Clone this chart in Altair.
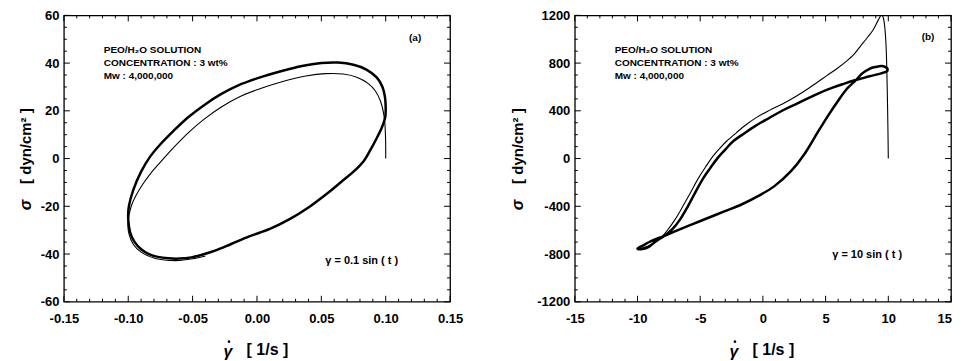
import altair as alt
import pandas as pd

# ---------------- data ----------------
# Panel (a): gamma = 0.1 sin(t)   (steady loop, closed)
A_LOOP_X = [0.1000, 0.0995, 0.0975, 0.0930, 0.0850, 0.0750, 0.0630, 0.0500, 0.0350, 0.0200,
            0.0000, -0.0150, -0.0280, -0.0400, -0.0530, -0.0650, -0.0750, -0.0830, -0.0900, -0.0960,
            -0.0995, -0.1000, -0.0985, -0.0950, -0.0900, -0.0840, -0.0770, -0.0690, -0.0600, -0.0510,
            -0.0420, -0.0320, -0.0200, -0.0060, 0.0100, 0.0250, 0.0400, 0.0560, 0.0660, 0.0750,
            0.0830, 0.0880, 0.0930, 0.0970, 0.0995]
A_LOOP_Y = [20.0, 25.5, 30.0, 34.0, 37.3, 39.3, 40.2, 40.0, 38.8, 36.8,
            33.6, 30.6, 27.0, 22.8, 17.5, 11.5, 6.0, 0.8, -5.5, -13.0,
            -20.0, -25.5, -31.0, -35.0, -38.0, -40.0, -41.2, -41.8, -41.9, -41.4,
            -40.2, -38.5, -35.8, -32.6, -29.5, -25.5, -20.5, -14.0, -9.5, -5.5,
            -1.0, 3.5, 8.5, 13.0, 17.0]
# Panel (a): start-up transient
A_START_X = [0.1000, 0.1000, 0.0998, 0.0993, 0.0982, 0.0960, 0.0920, 0.0860, 0.0780, 0.0670,
             0.0530, 0.0380, 0.0200, 0.0000, -0.0150, -0.0280, -0.0410, -0.0530, -0.0650, -0.0750,
             -0.0830, -0.0890, -0.0940, -0.0980, -0.1002, -0.0995, -0.0960, -0.0900, -0.0800, -0.0700,
             -0.0600, -0.0500, -0.0400]
A_START_Y = [0.0, 5.0, 10.0, 15.0, 19.5, 24.0, 28.3, 31.6, 34.0, 35.4,
             35.6, 34.6, 32.3, 28.8, 25.5, 21.5, 16.5, 11.0, 4.5, -1.5,
             -6.5, -11.0, -15.5, -20.5, -27.0, -31.5, -36.0, -39.2, -41.7, -42.6,
             -42.7, -42.0, -40.8]

# Panel (b): gamma = 10 sin(t)   (steady loop, closed)
B_LOOP_X = [-10.0, -9.5, -9.0, -8.4, -7.9, -6.97, -5.66, -4.34, -3.03, -1.71,
            -0.39, 0.92, 2.24, 3.29, 4.34, 5.2, 6.0, 6.7, 7.4, 7.9,
            8.5, 9.0, 9.5, 9.85, 9.95, 9.85, 9.3, 8.5, 7.9, 7.4,
            6.5, 5.5, 4.4, 3.5, 2.6, 1.6, 0.5, -0.66, -1.5, -2.37,
            -3.0, -3.6, -4.2, -4.74, -5.4, -6.05, -6.6, -7.2, -7.9, -8.5,
            -9.1, -9.6]
B_LOOP_Y = [-755, -725, -697, -670, -650, -608, -552, -496, -441, -385,
            -315, -231, -106, 34, 215, 360, 485, 585, 655, 712,
            752, 768, 775, 762, 745, 728, 710, 690, 672, 658,
            628, 592, 545, 500, 455, 405, 340, 270, 210, 145,
            75, 6, -80, -162, -285, -413, -510, -590, -650, -690,
            -740, -758]
# Panel (b): start-up transient
B_START_X = [10.0, 9.97, 9.93, 9.88, 9.82, 9.72, 9.6, 9.47, 9.2, 8.8,
             8.3, 7.8, 7.24, 6.6, 5.92, 5.1, 4.34, 3.29, 1.97, 0.39,
             -0.5, -1.32, -2.1, -2.9, -3.5, -4.08, -4.6, -5.13, -5.8, -6.45,
             -7.0, -7.5, -8.3, -9.2, -9.9]
B_START_Y = [0, 250, 500, 750, 950, 1100, 1180, 1205, 1160, 1080,
             1010, 945, 871, 810, 755, 695, 640, 564, 480, 397,
             345, 285, 218, 145, 78, 6, -75, -162, -290, -413,
             -510, -585, -680, -735, -755]

# axis ticks / labels
A_X_MAJOR = [-0.15, -0.10, -0.05, 0.00, 0.05, 0.10, 0.15]
A_X_MINOR = [-0.14, -0.13, -0.12, -0.11, -0.09, -0.08, -0.07, -0.06, -0.04, -0.03, -0.02, -0.01,
             0.01, 0.02, 0.03, 0.04, 0.06, 0.07, 0.08, 0.09, 0.11, 0.12, 0.13, 0.14]
A_Y_MAJOR = [-60, -40, -20, 0, 20, 40, 60]
A_Y_MINOR = [-55, -50, -45, -35, -30, -25, -15, -10, -5, 5, 10, 15, 25, 30, 35, 45, 50, 55]
B_X_MAJOR = [-15, -10, -5, 0, 5, 10, 15]
B_X_MINOR = [-14, -13, -12, -11, -9, -8, -7, -6, -4, -3, -2, -1,
             1, 2, 3, 4, 6, 7, 8, 9, 11, 12, 13, 14]
B_Y_MAJOR = [-1200, -800, -400, 0, 400, 800, 1200]
B_Y_MINOR = [-1100, -1000, -900, -700, -600, -500, -300, -200, -100,
             100, 200, 300, 500, 600, 700, 900, 1000, 1100]

INFO_TEXT = "PEO/H\u2082O  SOLUTION\nCONCENTRATION : 3 wt%\nMw : 4,000,000"
X_UNIT = "[ 1/s ]"
Y_UNIT = "[ dyn/cm\u00b2 ]"
GAMMA = "\u03b3"
SIGMA = "\u03c3"

FONT = "Liberation Sans"
MINUS_FIX = "replace(datum.label, '\u2212', '-')"


def txt(s, x, y, size, align="center", baseline="middle", angle=0, style="normal", **kw):
    return alt.Chart(pd.DataFrame({"t": [s]})).mark_text(
        align=align, baseline=baseline, font=FONT, fontSize=size, fontWeight="bold",
        fontStyle=style, color="black", angle=angle, **kw
    ).encode(x=alt.value(x), y=alt.value(y), text="t:N")


def panel(loop_x, loop_y, start_x, start_y, xdom, ydom, W, H,
          xmaj, xlab, xmin, ymaj, ymin, xfmt, tag, tag_pos, eq, eq_pos, ytitle_x,
          last_label=None):
    xs = alt.Scale(domain=xdom, nice=False, zero=False)
    ys = alt.Scale(domain=ydom, nice=False, zero=False)
    xaxis = alt.Axis(values=xlab, format=xfmt, title=None, ticks=False, tickSize=0,
                     domain=False, grid=False, labelPadding=11,
                     labelFlush=False, labelOverlap=False, labelExpr=MINUS_FIX)
    yaxis = alt.Axis(values=ymaj, format="d", title=None, ticks=False, tickSize=0,
                     domain=False, grid=False, labelPadding=5,
                     labelFlush=False, labelOverlap=False, labelExpr=MINUS_FIX)

    def X(f):
        return alt.X(f, scale=xs, axis=xaxis)

    def Y(f):
        return alt.Y(f, scale=ys, axis=yaxis)

    loop_df = pd.DataFrame({"x": loop_x, "y": loop_y, "i": list(range(len(loop_x)))})
    start_df = pd.DataFrame({"x": start_x, "y": start_y, "i": list(range(len(start_x)))})

    loop = alt.Chart(loop_df).mark_line(
        color="black", strokeWidth=2.5, interpolate="cardinal-closed", clip=True
    ).encode(x=X("x:Q"), y=Y("y:Q"), order="i:Q")
    start = alt.Chart(start_df).mark_line(
        color="black", strokeWidth=1.1, interpolate="catmull-rom", clip=True
    ).encode(x=X("x:Q"), y=Y("y:Q"), order="i:Q")

    layers = [loop, start]

    def xticks(vals, L):
        df = pd.DataFrame({"x": vals})
        bot = alt.Chart(df).mark_rule(color="black", strokeWidth=1).encode(
            x=X("x:Q"), y=alt.value(H), y2=alt.value(H - L))
        top = alt.Chart(df).mark_rule(color="black", strokeWidth=1).encode(
            x=X("x:Q"), y=alt.value(0), y2=alt.value(L))
        return [bot, top]

    def yticks(vals, L):
        df = pd.DataFrame({"y": vals})
        left = alt.Chart(df).mark_rule(color="black", strokeWidth=1).encode(
            y=Y("y:Q"), x=alt.value(0), x2=alt.value(L))
        right = alt.Chart(df).mark_rule(color="black", strokeWidth=1).encode(
            y=Y("y:Q"), x=alt.value(W), x2=alt.value(W - L))
        return [left, right]

    layers += xticks(xmaj, 6) + xticks(xmin, 3) + yticks(ymaj, 6) + yticks(ymin, 3)

    # last x label at the window edge (kept inside the page)
    if last_label is not None:
        layers.append(txt(last_label, W + 1, H + 11, 13, align="right", baseline="top"))

    # annotations inside the frame
    layers.append(txt(INFO_TEXT, 40, 30, 10, align="left", baseline="top",
                      lineBreak="\n", lineHeight=13))
    layers.append(txt(tag, tag_pos[0], tag_pos[1], 10))
    layers.append(txt(eq, eq_pos[0], eq_pos[1], 11, align="left"))

    # axis titles (gamma-dot and sigma drawn as text)
    cx = W / 2
    layers.append(txt(GAMMA, cx - 29, H + 50, 16, style="italic"))
    layers.append(alt.Chart(pd.DataFrame({"t": [0]})).mark_circle(
        color="black", opacity=1, size=7).encode(x=alt.value(cx - 28), y=alt.value(H + 40)))
    layers.append(txt(X_UNIT, cx + 10.5, H + 48, 16))
    layers.append(txt(SIGMA, ytitle_x, 190, 16, angle=270, style="italic"))
    layers.append(txt(Y_UNIT, ytitle_x, 131, 15, angle=270))

    return alt.layer(*layers).properties(width=W, height=H)


pa = panel(A_LOOP_X, A_LOOP_Y, A_START_X, A_START_Y, [-0.15, 0.15], [-60, 60], 387, 287,
           A_X_MAJOR, A_X_MAJOR, A_X_MINOR, A_Y_MAJOR, A_Y_MINOR, ".2f",
           "(a)", (352, 23), GAMMA + "  =  0.1 sin ( t )", (262, 246), -38)
pb = panel(B_LOOP_X, B_LOOP_Y, B_START_X, B_START_Y, [-15, 15], [-1200, 1200], 377, 287,
           B_X_MAJOR, B_X_MAJOR[:-1], B_X_MINOR, B_Y_MAJOR, B_Y_MINOR, "d",
           "(b)", (354, 22), GAMMA + "  =  10 sin ( t )", (258, 240), -57,
           last_label=str(B_X_MAJOR[-1]))

chart = alt.hconcat(pa, pb, spacing=125, bounds="flush").properties(
    padding={"left": 9, "top": 0, "right": 0, "bottom": 5}
).configure_view(
    stroke="black", strokeWidth=1.3
).configure_axis(
    labelFont=FONT, labelFontSize=13, labelFontWeight="bold", labelColor="black"
)

chart.save("out.html", embed_options={"renderer": "svg", "actions": False})
